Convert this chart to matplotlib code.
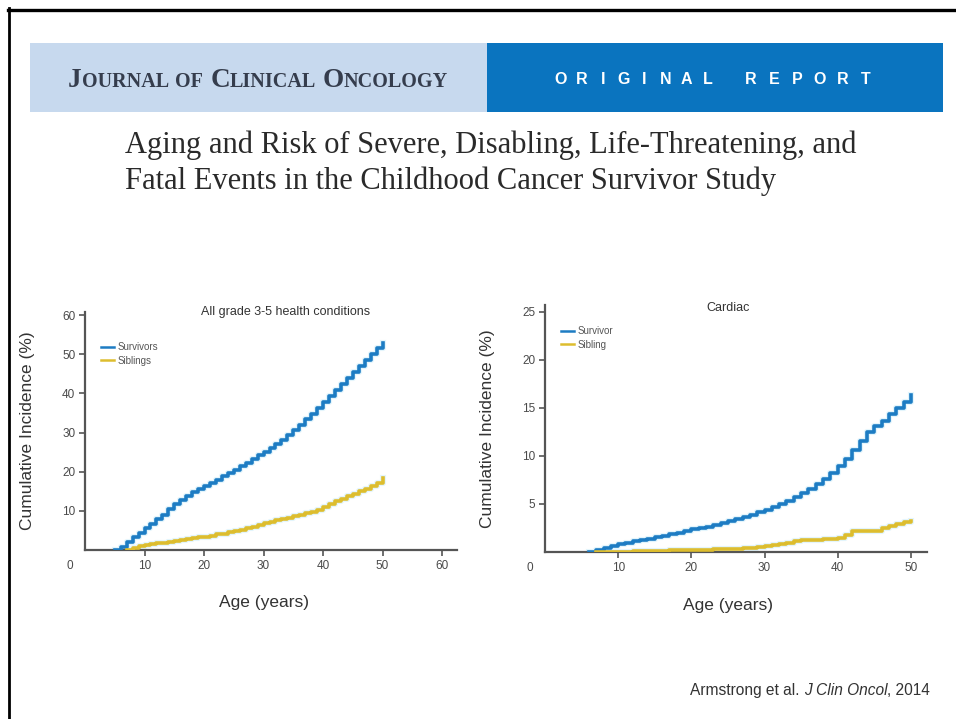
import numpy as np
import matplotlib
matplotlib.use("Agg")
import matplotlib.pyplot as plt
from matplotlib.patches import Rectangle
from matplotlib.lines import Line2D

W, H = 956, 719

# --- data ---
all_surv_age = np.arange(5, 51)
all_surv = [0, 0.8, 2.0, 3.2, 4.4, 5.5, 6.6, 7.8, 9.0, 10.4,
            11.8, 12.8, 13.8, 14.8, 15.6, 16.3, 17.1, 18.0, 18.8, 19.6,
            20.5, 21.4, 22.3, 23.2, 24.2, 25.1, 26.1, 27.2, 28.2, 29.4,
            30.6, 32.0, 33.4, 34.8, 36.4, 37.9, 39.4, 40.9, 42.5, 44.0,
            45.5, 47.0, 48.5, 50.0, 51.5, 52.8]
all_sib_age = np.arange(7, 51)
all_sib = [0, 0.4, 0.9, 1.2, 1.5, 1.7, 1.9, 2.1, 2.4, 2.6,
           2.8, 3.0, 3.2, 3.4, 3.7, 4.0, 4.2, 4.5, 4.8, 5.1,
           5.5, 5.9, 6.3, 6.8, 7.2, 7.6, 8.0, 8.3, 8.6, 9.0,
           9.4, 9.8, 10.3, 11.0, 11.7, 12.4, 13.0, 13.7, 14.3, 15.0,
           15.6, 16.3, 17.2, 18.4]

card_surv_age = np.arange(6, 51)
card_surv = [0, 0.2, 0.4, 0.6, 0.8, 0.95, 1.1, 1.25, 1.4, 1.55,
             1.7, 1.85, 2.0, 2.2, 2.35, 2.5, 2.65, 2.8, 3.0, 3.2,
             3.4, 3.65, 3.9, 4.15, 4.4, 4.7, 5.0, 5.3, 5.7, 6.1,
             6.6, 7.1, 7.6, 8.2, 8.9, 9.7, 10.6, 11.6, 12.5, 13.1,
             13.6, 14.4, 15.0, 15.6, 16.3]
card_sib_age = np.arange(7, 51)
card_sib = [0, 0, 0, 0.02, 0.04, 0.06, 0.08, 0.1, 0.12, 0.14,
            0.16, 0.18, 0.2, 0.22, 0.24, 0.26, 0.28, 0.3, 0.32, 0.35,
            0.4, 0.45, 0.5, 0.6, 0.7, 0.8, 0.95, 1.1, 1.2, 1.25,
            1.3, 1.35, 1.4, 1.45, 1.8, 2.15, 2.2, 2.2, 2.2, 2.5,
            2.7, 2.9, 3.1, 3.25]

left_yticks = [10, 20, 30, 40, 50, 60]
left_xticks = [10, 20, 30, 40, 50, 60]
right_yticks = [5, 10, 15, 20, 25]
right_xticks = [10, 20, 30, 40, 50]

BLUE = '#1d7cc3'
YELLOW = '#ddbd2e'
GREY = '#4a4a4a'

plt.rcParams['font.family'] = ['Liberation Sans', 'DejaVu Sans']

fig = plt.figure(figsize=(W / 100, H / 100), dpi=100)
fig.patch.set_facecolor('white')


def fx(px):
    return px / W


def fy(py):
    return 1 - py / H


def put_run(x, y, pieces, **common):
    # draw text pieces one after another on a baseline
    r = fig.canvas.get_renderer()
    for s, kw in pieces:
        t = fig.text(fx(x), fy(y), s, va='baseline', ha='left', **common, **kw)
        x += t.get_window_extent(renderer=r).width
    return x


# slide frame
fig.add_artist(Line2D([fx(8), 1], [fy(10), fy(10)], color='black', lw=2.4))
fig.add_artist(Line2D([fx(9), fx(9)], [fy(8), 0], color='black', lw=2.0))

# header bands
fig.add_artist(Rectangle((fx(30), fy(112)), fx(487) - fx(30), fy(43) - fy(112),
                         transform=fig.transFigure, color='#c7d9ee', lw=0))
fig.add_artist(Rectangle((fx(487), fy(112)), fx(943) - fx(487), fy(43) - fy(112),
                         transform=fig.transFigure, color='#0a74bf', lw=0))

big = dict(fontsize=19.5)
small = dict(fontsize=14.5)
put_run(68, 87, [('J', big), ('OURNAL', small), (' ', big), ('OF', small), (' ', big),
                 ('C', big), ('LINICAL', small), (' ', big), ('O', big), ('NCOLOGY', small)],
        family='Liberation Serif', color='#353d4d', fontweight='bold')

for i, ch in enumerate("ORIGINAL"):
    fig.text(fx(561 + i * 20.9), fy(79), ch, ha='center', va='center',
             color='white', fontsize=11.5, fontweight='bold')
for i, ch in enumerate("REPORT"):
    fig.text(fx(751 + i * 23), fy(79), ch, ha='center', va='center',
             color='white', fontsize=11.5, fontweight='bold')

fig.text(fx(125), fy(153), "Aging and Risk of Severe, Disabling, Life-Threatening, and",
         family='Liberation Serif', fontsize=22, color='#2a2a2a', va='baseline')
fig.text(fx(125), fy(189), "Fatal Events in the Childhood Cancer Survivor Study",
         family='Liberation Serif', fontsize=22, color='#2a2a2a', va='baseline')

put_run(690, 695, [("Armstrong et al. ", {}), ("J Clin Oncol", dict(style='italic')),
                   (", 2014", {})], fontsize=11.2, color='#333333')


def style_axes(ax, xticks, yticks):
    for s in ['top', 'right']:
        ax.spines[s].set_visible(False)
    for s in ['left', 'bottom']:
        ax.spines[s].set_color('#555555')
        ax.spines[s].set_linewidth(1.6)
    ax.set_xticks(xticks)
    ax.set_yticks(yticks)
    ax.tick_params(length=4, width=1.2, color='#555555', labelsize=8.5,
                   labelcolor=GREY, pad=3)
    ax.set_xlabel('Age (years)', fontsize=12.5, color='#333333')
    ax.set_ylabel('Cumulative Incidence (%)', fontsize=12.5, color='#333333')
    ax.annotate('0', xy=(0, 0), xytext=(-15, -16), textcoords='offset pixels',
                ha='center', va='center', fontsize=8.5, color=GREY,
                annotation_clip=False)


def draw_curve(ax, x, y, color, label):
    ax.plot(x, y, drawstyle='steps-post', color='#e3f5fc', lw=4.4, zorder=2)
    ax.plot(x, y, drawstyle='steps-post', color=color, lw=2.6, zorder=3,
            label=label)


# left panel
ax1 = fig.add_axes([fx(85), fy(550), fx(457) - fx(85), fy(312) - fy(550)])
draw_curve(ax1, all_surv_age, all_surv, BLUE, 'Survivors')
draw_curve(ax1, all_sib_age, all_sib, YELLOW, 'Siblings')
ax1.set_xlim(0, 62.5)
ax1.set_ylim(0, 60.8)
style_axes(ax1, left_xticks, left_yticks)
ax1.xaxis.set_label_coords(0.48, -0.19)
ax1.yaxis.set_label_coords(-0.134, 0.5)
ax1.text(0.538, 1.0, 'All grade 3-5 health conditions', transform=ax1.transAxes,
         ha='center', va='center', fontsize=9, color='#333333')
leg = ax1.legend(loc='upper left', bbox_to_anchor=(0.02, 0.91), frameon=False,
                 fontsize=7, handlelength=1.3, handletextpad=0.4, labelspacing=0.35,
                 labelcolor='#555555')
for h in leg.get_lines():
    h.set_linewidth(1.8)

# right panel
ax2 = fig.add_axes([fx(545), fy(552), fx(927) - fx(545), fy(305) - fy(552)])
draw_curve(ax2, card_surv_age, card_surv, BLUE, 'Survivor')
draw_curve(ax2, card_sib_age, card_sib, YELLOW, 'Sibling')
ax2.set_xlim(0, 52.2)
ax2.set_ylim(0, 25.7)
style_axes(ax2, right_xticks, right_yticks)
ax2.xaxis.set_label_coords(0.479, -0.186)
ax2.yaxis.set_label_coords(-0.131, 0.5)
ax2.text(0.479, 0.988, 'Cardiac', transform=ax2.transAxes,
         ha='center', va='center', fontsize=9, color='#333333')
leg = ax2.legend(loc='upper left', bbox_to_anchor=(0.02, 0.95), frameon=False,
                 fontsize=7, handlelength=1.3, handletextpad=0.4, labelspacing=0.35,
                 labelcolor='#555555')
for h in leg.get_lines():
    h.set_linewidth(1.8)

fig.savefig('out.png', dpi=100)
